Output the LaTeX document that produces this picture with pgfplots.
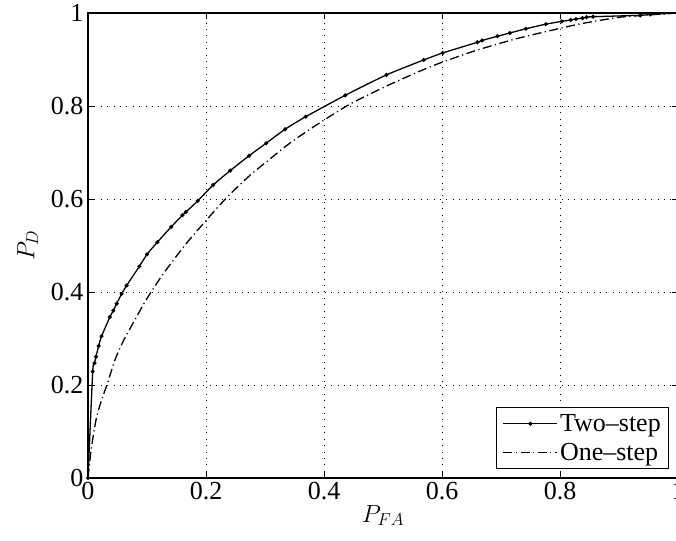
\documentclass[border=0pt]{standalone}
\usepackage{fontspec}
\setmainfont{Liberation Serif}
\usepackage{pgfplots}
\pgfplotsset{compat=1.18}
\begin{document}
\begin{tikzpicture}
\begin{axis}[
  scale only axis,
  width=590pt, height=465pt,
  xmin=0, xmax=1, ymin=0, ymax=1,
  xtick={0,0.2,0.4,0.6,0.8,1},
  ytick={0,0.2,0.4,0.6,0.8,1},
  xticklabels={0,0.2,0.4,0.6,0.8,1},
  yticklabels={0,0.2,0.4,0.6,0.8,1},
  /pgf/number format/assume math mode=true,
  tick align=inside,
  major tick length=6pt,
  tick style={black, line width=0.8pt},
  axis line style={line width=1.3pt},
  grid=major,
  major grid style={black, line width=0.8pt, dash pattern=on 0.9pt off 5.5pt},
  ticklabel style={font=\fontsize{26}{30}\selectfont},
  xticklabel style={yshift=-1pt},
  yticklabel style={xshift=-1pt},
  label style={font=\fontsize{27}{31}\selectfont},
  xlabel={$P_{FA}$},
  ylabel={$P_D$},
  xlabel style={yshift=2pt},
  ylabel style={yshift=6pt},
  legend style={at={(rel axis cs:0.985,0.019)}, anchor=south east,
    font=\fontsize{26}{30}\selectfont, draw=black, line width=0.8pt,
    inner xsep=6pt, inner ysep=5pt, row sep=6pt,
    nodes={inner sep=2pt}},
  legend cell align=left,
  legend image code/.code={\draw[#1,mark=none] (0pt,0pt) -- (54pt,0pt);
     \draw[#1] plot[only marks] coordinates {(27pt,0pt)};},
]
\addplot[black, line width=1.3pt, smooth, tension=0.35, mark=*, mark size=1.3pt, mark options={solid}] coordinates {
(0,0) (0.008,0.229) (0.011,0.247) (0.0136,0.261) (0.018,0.284) (0.023,0.305)
(0.037,0.346) (0.043,0.360) (0.0486,0.375) (0.057,0.396) (0.0655,0.414)
(0.087,0.455) (0.100,0.481) (0.1175,0.507) (0.141,0.540) (0.160,0.565)
(0.166,0.572) (0.186,0.596) (0.212,0.630) (0.241,0.661) (0.273,0.693)
(0.302,0.720) (0.334,0.750) (0.369,0.777) (0.436,0.823) (0.506,0.867)
(0.569,0.899) (0.601,0.914) (0.660,0.937) (0.668,0.941) (0.694,0.950)
(0.715,0.957) (0.742,0.966) (0.776,0.976) (0.803,0.982) (0.818,0.985)
(0.827,0.987) (0.838,0.989) (0.845,0.991) (0.856,0.992) (0.936,0.995)
(0.953,0.997) (1,1)
};
\addlegendentry{Two\textendash step}
\addplot[black, line width=1.3pt, smooth, tension=0.35, dash pattern=on 9pt off 3.5pt on 1.2pt off 3.5pt] coordinates {
(0,0) (0.006,0.067) (0.0147,0.132) (0.025,0.175) (0.032,0.200) (0.046,0.255)
(0.060,0.295) (0.0825,0.347) (0.0995,0.385) (0.128,0.440) (0.167,0.505)
(0.201,0.555) (0.224,0.588) (0.246,0.617) (0.272,0.648) (0.283,0.660)
(0.342,0.720) (0.393,0.764) (0.444,0.804) (0.506,0.843) (0.568,0.878)
(0.602,0.895) (0.659,0.920) (0.727,0.945) (0.800,0.967) (0.840,0.978)
(0.902,0.991) (0.964,0.997) (1,1)
};
\addlegendentry{One\textendash step}
\end{axis}
\pgfresetboundingbox
\useasboundingbox ([xshift=-88pt,yshift=-62pt]current axis.south west) rectangle ([xshift=-2pt,yshift=13pt]current axis.north east);
\end{tikzpicture}
\end{document}
